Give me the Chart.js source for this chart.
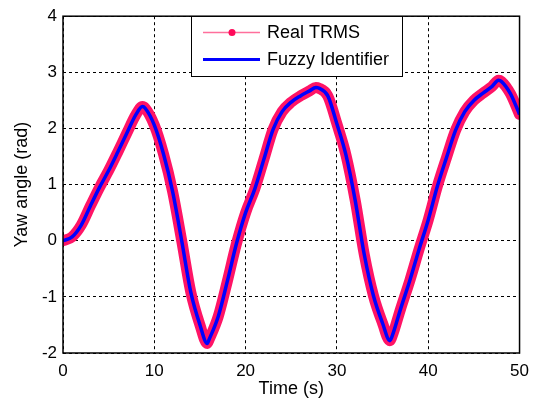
<!DOCTYPE html>
<html>
<head>
<meta charset="utf-8">
<script src="https://cdn.jsdelivr.net/npm/chart.js@4"></script>
<style>
  html, body { margin: 0; padding: 0; background: #fff; }
  #wrap { width: 537px; height: 405px; }
</style>
</head>
<body>
<div id="wrap"><canvas id="chart" width="537" height="405"></canvas></div>
<script>
// values
let timeS = [0, 1, 2, 3, 4, 5, 6, 7, 8, 8.7, 9, 10, 11, 12, 13, 14, 15, 15.8, 16, 17, 18, 19, 20,
  21, 22, 23, 24, 25, 26, 27, 27.7, 28, 29, 30, 31, 32, 33, 34, 35, 35.8, 36, 37, 38, 39, 40,
  41, 42, 43, 44, 45, 46, 47, 47.7, 48, 49, 50];
let realTrms = [0, 0.07, 0.28, 0.62, 0.95, 1.25, 1.58, 1.92, 2.25, 2.39, 2.36, 2.06, 1.55, 0.88, 0.0, -0.92, -1.5, -1.83, -1.76, -1.35, -0.72, -0.05, 0.5,
  0.92, 1.45, 1.98, 2.3, 2.47, 2.58, 2.67, 2.73, 2.72, 2.58, 2.08, 1.52, 0.72, -0.25, -0.98, -1.47, -1.78, -1.72, -1.2, -0.7, -0.15, 0.37,
  0.97, 1.48, 1.97, 2.3, 2.5, 2.63, 2.75, 2.86, 2.84, 2.62, 2.25];
let fuzzyId = [0, 0.07, 0.28, 0.62, 0.95, 1.25, 1.58, 1.92, 2.25, 2.39, 2.36, 2.06, 1.55, 0.88, 0.0, -0.92, -1.5, -1.83, -1.76, -1.35, -0.72, -0.05, 0.5,
  0.92, 1.45, 1.98, 2.3, 2.47, 2.58, 2.67, 2.73, 2.72, 2.58, 2.08, 1.52, 0.72, -0.25, -0.98, -1.47, -1.78, -1.72, -1.2, -0.7, -0.15, 0.37,
  0.97, 1.48, 1.97, 2.3, 2.5, 2.63, 2.75, 2.86, 2.84, 2.62, 2.25];
let seriesNames = ['Real TRMS', 'Fuzzy Identifier'];
let xTitle = 'Time (s)';
let yTitle = 'Yaw angle (rad)';

const FONT = "'Liberation Sans', Arial, sans-serif";

function toPoints(xs, ys) {
  return xs.map((x, i) => ({ x: x, y: ys[i] }));
}

// matlab style box round the axes
const boxPlugin = {
  id: 'box',
  afterDraw(chart) {
    const a = chart.chartArea, ctx = chart.ctx;
    ctx.save();
    ctx.strokeStyle = '#000';
    ctx.lineWidth = 1.5;
    ctx.strokeRect(a.left, a.top, a.right - a.left, a.bottom - a.top);
    ctx.restore();
  }
};

// legend box drawn like the matlab one
const legendPlugin = {
  id: 'matLegend',
  afterDraw(chart) {
    const ctx = chart.ctx;
    const x0 = 191, y0 = 16, w = 211, h = 60;
    ctx.save();
    ctx.fillStyle = '#fff';
    ctx.fillRect(x0, y0, w, h);
    ctx.strokeStyle = '#000';
    ctx.lineWidth = 1;
    ctx.strokeRect(x0 + 0.5, y0 + 0.5, w, h);

    // row 1: pink line with dot
    ctx.strokeStyle = '#ff6f9c';
    ctx.lineWidth = 1.5;
    ctx.beginPath(); ctx.moveTo(203, 32.5); ctx.lineTo(260, 32.5); ctx.stroke();
    ctx.fillStyle = '#ff0a5a';
    ctx.beginPath(); ctx.arc(232, 32.5, 3.5, 0, Math.PI * 2); ctx.fill();

    // row 2: blue line
    ctx.strokeStyle = '#0000ff';
    ctx.lineWidth = 3;
    ctx.beginPath(); ctx.moveTo(203, 59.5); ctx.lineTo(260, 59.5); ctx.stroke();

    ctx.fillStyle = '#000';
    ctx.font = '18px ' + FONT;
    ctx.textBaseline = 'middle';
    ctx.fillText(seriesNames[0], 267, 33.5);
    ctx.fillText(seriesNames[1], 267, 60);
    ctx.restore();
  }
};

new Chart(document.getElementById('chart').getContext('2d'), {
  type: 'line',
  data: {
    datasets: [{
      label: seriesNames[0],
      data: toPoints(timeS, realTrms),
      borderColor: '#ff1466',
      borderWidth: 11,
      borderCapStyle: 'round',
      borderJoinStyle: 'round',
      pointRadius: 0,
      cubicInterpolationMode: 'monotone',
      order: 2
    }, {
      label: seriesNames[1],
      data: toPoints(timeS, fuzzyId),
      borderColor: '#0000ff',
      borderWidth: 3.5,
      borderJoinStyle: 'round',
      pointRadius: 0,
      cubicInterpolationMode: 'monotone',
      order: 1
    }]
  },
  options: {
    responsive: false,
    animation: false,
    events: [],
    layout: { padding: { top: 16, right: 10, left: 0, bottom: 0 } },
    plugins: {
      legend: { display: false },
      tooltip: { enabled: false }
    },
    scales: {
      x: {
        type: 'linear',
        min: 0, max: 50,
        afterFit: s => { s.height = 52; },
        border: { display: false, dash: [3, 3] },
        grid: { color: '#000', lineWidth: 1, drawTicks: false },
        ticks: { stepSize: 10, padding: 8, color: '#000', font: { family: FONT, size: 17 }, maxRotation: 0 },
        title: { display: true, text: xTitle, color: '#000', font: { family: FONT, size: 18 }, padding: { top: 0, bottom: 5 } }
      },
      y: {
        min: -2, max: 4,
        afterFit: s => { s.width = 63; },
        border: { display: false, dash: [3, 3] },
        grid: { color: '#000', lineWidth: 1, drawTicks: false },
        ticks: { stepSize: 1, padding: 6, color: '#000', font: { family: FONT, size: 17 } },
        title: { display: true, text: yTitle, color: '#000', font: { family: FONT, size: 18 }, padding: { top: 11, bottom: 0 } }
      }
    }
  },
  plugins: [boxPlugin, legendPlugin]
});
</script>
</body>
</html>
